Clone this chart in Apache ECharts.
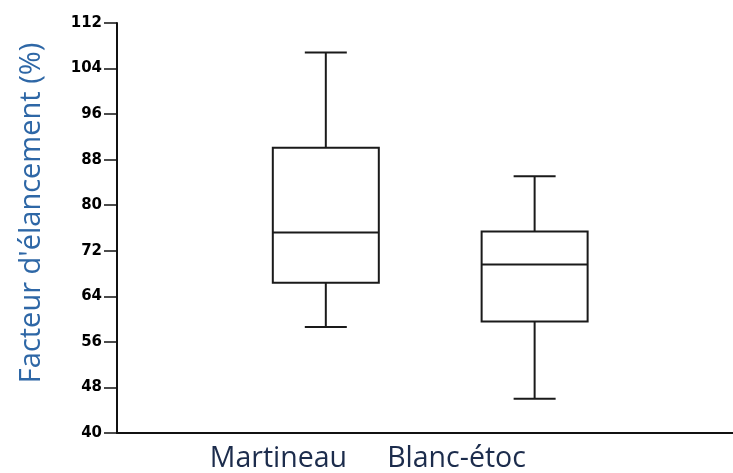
<!DOCTYPE html>
<html>
<head>
<meta charset="utf-8">
<script src="https://cdn.jsdelivr.net/npm/echarts@6/dist/echarts.min.js"></script>
<style>
  html, body { margin: 0; padding: 0; background: #fff; }
  #chart { width: 733px; height: 473px; }
</style>
</head>
<body>
<div id="chart"></div>
<script>
let myChart = echarts.init(document.getElementById('chart'));

// groups and their slot on the x axis
const categories = ['Martineau', 'Blanc-étoc'];
const slots = [1, 2];
// where the group labels sit under the axis (they are offset left of the boxes)
const labelSlots = [0.773, 1.626];

// min, Q1, median, Q3, max (%)
const martineau = [58.6, 66.4, 75.2, 90.1, 106.8];
const blancEtoc = [46.0, 59.6, 69.6, 75.4, 85.1];

const yTicks = {min: 40, max: 112, interval: 8};

const boxData = [
    [slots[0]].concat(martineau),
    [slots[1]].concat(blancEtoc)
];

const BOX_W = 106;   // px
const CAP_W = 42;    // px
const lineStyle = {stroke: '#1a1a1a', lineWidth: 2, fill: null};

function renderBox(params, api) {
    let x = api.value(0);
    let pMin = api.coord([x, api.value(1)]);
    let pQ1 = api.coord([x, api.value(2)]);
    let pMed = api.coord([x, api.value(3)]);
    let pQ3 = api.coord([x, api.value(4)]);
    let pMax = api.coord([x, api.value(5)]);
    let cx = pMed[0];
    let hb = BOX_W / 2, hc = CAP_W / 2;
    let seg = function (x1, y1, x2, y2) {
        return {type: 'line', shape: {x1: x1, y1: y1, x2: x2, y2: y2}, style: lineStyle};
    };
    return {
        type: 'group',
        children: [
            {type: 'rect', shape: {x: cx - hb, y: pQ3[1], width: BOX_W, height: pQ1[1] - pQ3[1]}, style: lineStyle},
            seg(cx - hb, pMed[1], cx + hb, pMed[1]),
            seg(cx, pQ3[1], cx, pMax[1]),
            seg(cx, pQ1[1], cx, pMin[1]),
            seg(cx - hc, pMax[1], cx + hc, pMax[1]),
            seg(cx - hc, pMin[1], cx + hc, pMin[1])
        ]
    };
}

let option = {
    backgroundColor: '#ffffff',
    animation: false,
    grid: {left: 117, right: 0, top: 23, bottom: 38},
    xAxis: {
        type: 'value',
        min: 0,
        max: 2.95,
        splitLine: {show: false},
        axisLine: {show: true, lineStyle: {color: '#111', width: 2}},
        axisTick: {show: false},
        axisLabel: {
            customValues: labelSlots,
            margin: 11,
            color: '#1c2c4c',
            fontFamily: 'Open Sans',
            fontSize: 28.5,
            formatter: function (v) {
                let i = labelSlots.indexOf(v);
                return i >= 0 ? categories[i] : '';
            }
        }
    },
    yAxis: {
        type: 'value',
        min: yTicks.min,
        max: yTicks.max,
        interval: yTicks.interval,
        splitLine: {show: false},
        axisLine: {show: true, lineStyle: {color: '#111', width: 2}},
        axisTick: {show: true, length: 13, lineStyle: {color: '#111', width: 1.5}},
        axisLabel: {
            margin: 15,
            color: '#000',
            fontFamily: 'DejaVu Sans',
            fontWeight: 900,
            fontSize: 15
        },
        name: "Facteur d'élancement (%)",
        nameLocation: 'middle',
        nameGap: 71,
        nameTextStyle: {
            color: '#2e67a6',
            fontFamily: 'Open Sans',
            fontSize: 29,
            padding: [0, 0, 0, 30]
        }
    },
    series: [
        {
            type: 'custom',
            renderItem: renderBox,
            encode: {x: 0, y: [1, 2, 3, 4, 5]},
            data: boxData
        }
    ]
};

myChart.setOption(option);
</script>
</body>
</html>
